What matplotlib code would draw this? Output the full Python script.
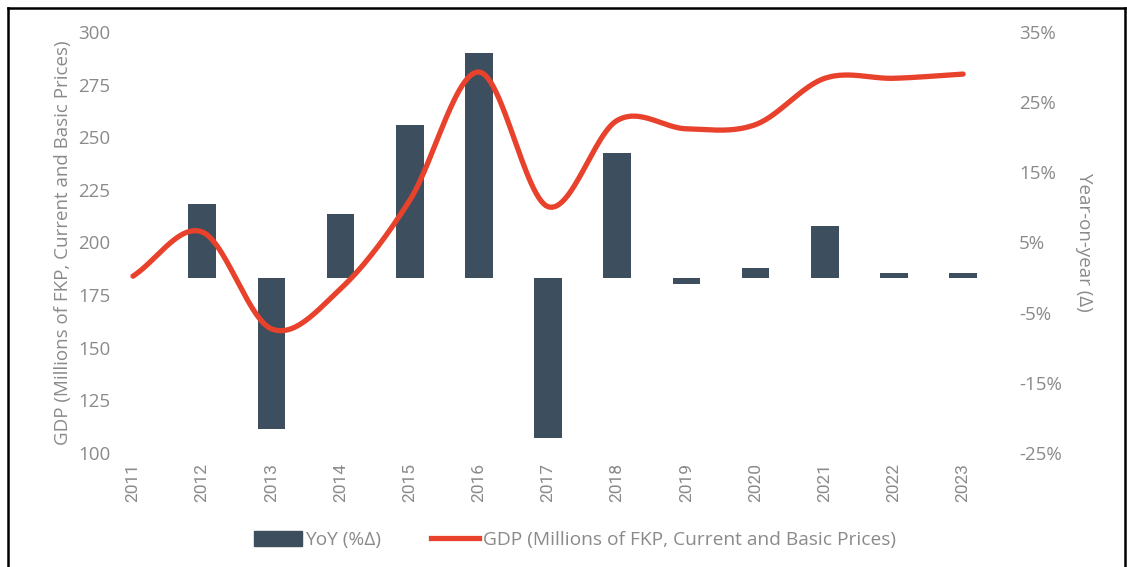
import matplotlib
matplotlib.use("Agg")
import matplotlib.pyplot as plt
from matplotlib.lines import Line2D
from matplotlib.patches import Patch
import numpy as np

years = [2011, 2012, 2013, 2014, 2015, 2016, 2017, 2018, 2019, 2020, 2021, 2022, 2023]
gdp = [184, 205, 159, 178, 220, 281, 217, 258, 254, 256, 278, 278, 280]
yoy = [None, 10.5, -21.6, 9.1, 21.8, 32.0, -22.8, 17.8, -0.9, 1.4, 7.3, 0.6, 0.6]
left_ticks = [100, 125, 150, 175, 200, 225, 250, 275, 300]
right_ticks = [-25, -15, -5, 5, 15, 25, 35]

bar_color = "#3d4e5f"
line_color = "#e8412c"
grey = "#8a8a8a"

plt.rcParams['font.family'] = ['Open Sans', 'DejaVu Sans']


def smooth(x, y, n=30):
    # catmull-rom so the line bends like the excel "smoothed line"
    x = np.asarray(x, float)
    y = np.asarray(y, float)
    px = np.concatenate([[2 * x[0] - x[1]], x, [2 * x[-1] - x[-2]]])
    py = np.concatenate([[2 * y[0] - y[1]], y, [2 * y[-1] - y[-2]]])
    xs, ys = [], []
    t = np.linspace(0, 1, n)
    for i in range(1, len(px) - 2):
        for p, out in ((px, xs), (py, ys)):
            p0, p1, p2, p3 = p[i - 1], p[i], p[i + 1], p[i + 2]
            out.extend(0.5 * ((2 * p1) + (-p0 + p2) * t
                              + (2 * p0 - 5 * p1 + 4 * p2 - p3) * t ** 2
                              + (-p0 + 3 * p1 - 3 * p2 + p3) * t ** 3))
    return np.array(xs), np.array(ys)


fig = plt.figure(figsize=(11.27, 5.67), dpi=100)
ax = fig.add_axes([0.1088, 0.2011, 0.7918, 0.7425])
ax2 = ax.twinx()

bx = [yr for yr, v in zip(years, yoy) if v is not None]
bv = [v for v in yoy if v is not None]
ax2.bar(bx, bv, width=0.4, color=bar_color, zorder=1)
ax2.set_ylim(-25, 35)
ax2.set_yticks(right_ticks)
ax2.set_yticklabels([f"{t}%" for t in right_ticks])

sx, sy = smooth(years, gdp)
ax.plot(sx, sy, color=line_color, lw=3.8, solid_capstyle='round', zorder=5)
ax.set_zorder(ax2.get_zorder() + 1)
ax.patch.set_visible(False)
ax.set_ylim(100, 300)
ax.set_yticks(left_ticks)
ax.set_xlim(2010.85, 2023.75)
ax.set_xticks(years)
ax.set_xticklabels([str(y) for y in years], rotation=90, fontsize=12.5, color=grey,
                   fontfamily=['Liberation Sans Narrow', 'Roboto', 'DejaVu Sans'])

for a in (ax, ax2):
    for s in a.spines.values():
        s.set_visible(False)
    a.tick_params(length=0, colors=grey)
ax.tick_params(axis='y', pad=9, labelsize=13.5)
ax.tick_params(axis='x', pad=7)
ax2.tick_params(axis='y', pad=3, labelsize=13.5)

ax.set_ylabel("GDP (Millions of FKP, Current and Basic Prices)", fontsize=13.5, color=grey, labelpad=4)
ax2.set_ylabel("Year-on-year (Δ)", fontsize=13.5, color=grey, rotation=270, labelpad=22)

handles = [Patch(color=bar_color), Line2D([], [], color=line_color, lw=3.8)]
fig.legend(handles, ["YoY (%Δ)", "GDP (Millions of FKP, Current and Basic Prices)"],
           loc='center', bbox_to_anchor=(0.510, 0.048), ncol=2, frameon=False,
           fontsize=13.8, labelcolor=grey, handlelength=2.5, handleheight=0.9,
           handletextpad=0.2, columnspacing=2.6)

# thin black frame around the picture (no bottom edge)
fig.add_artist(Line2D([0.0075, 0.0075], [0, 0.986], color='black', lw=1.8, transform=fig.transFigure))
fig.add_artist(Line2D([0.0075, 0.998], [0.986, 0.986], color='black', lw=1.8, transform=fig.transFigure))
fig.add_artist(Line2D([0.998, 0.998], [0, 0.986], color='black', lw=1.8, transform=fig.transFigure))

fig.savefig("out.png", dpi=100)
